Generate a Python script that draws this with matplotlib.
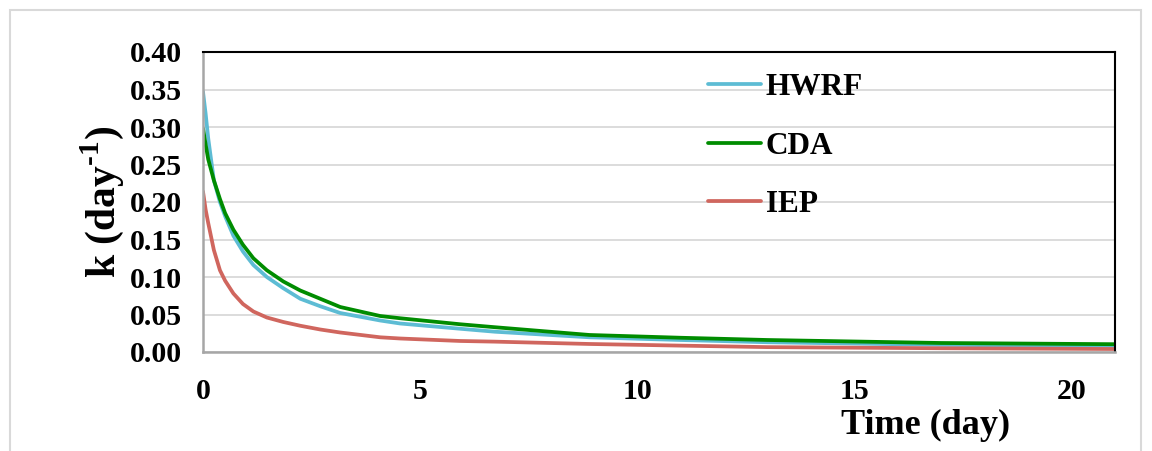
import matplotlib
matplotlib.use("Agg")
import matplotlib.pyplot as plt
from matplotlib.patches import Rectangle

# values
time_day = [0, 0.06, 0.12, 0.25, 0.39, 0.51, 0.70, 0.92, 1.16, 1.47, 1.85, 2.24,
            2.70, 3.16, 4.08, 4.54, 5.92, 6.73, 8.9, 11, 13, 17, 21]
k_hwrf = [0.347, 0.318, 0.285, 0.229, 0.200, 0.181, 0.155, 0.134, 0.116, 0.100, 0.085,
          0.071, 0.061, 0.052, 0.042, 0.038, 0.031, 0.027, 0.0196, 0.016, 0.013, 0.0095, 0.008]
k_cda = [0.298, 0.277, 0.257, 0.229, 0.204, 0.185, 0.163, 0.143, 0.125, 0.109, 0.094,
         0.082, 0.071, 0.060, 0.048, 0.045, 0.037, 0.033, 0.0227, 0.019, 0.016, 0.012, 0.0104]
k_iep = [0.214, 0.190, 0.172, 0.136, 0.109, 0.095, 0.078, 0.064, 0.054, 0.046, 0.040,
         0.035, 0.030, 0.026, 0.0196, 0.018, 0.0147, 0.0138, 0.0107, 0.0085, 0.0065, 0.005, 0.004]

x_ticks = [0, 5, 10, 15, 20]
y_ticks = [0.00, 0.05, 0.10, 0.15, 0.20, 0.25, 0.30, 0.35, 0.40]

plt.rcParams['font.family'] = ['Liberation Serif', 'DejaVu Serif']
plt.rcParams['font.weight'] = 'bold'
plt.rcParams['mathtext.fontset'] = 'custom'
plt.rcParams['mathtext.rm'] = 'Liberation Serif:bold'
plt.rcParams['mathtext.bf'] = 'Liberation Serif:bold'

W, H = 1152, 451
fig = plt.figure(figsize=(W / 100, H / 100), dpi=100)
ax = fig.add_axes([203 / W, 1 - 352 / H, (1115 - 203) / W, (352 - 52) / H])

# outer chart border
fig.patches.append(Rectangle((10 / W, -0.01), 1131 / W, 1 - 10 / H + 0.01,
                             transform=fig.transFigure, fill=False,
                             edgecolor='#d9d9d9', linewidth=1.5))

ax.plot(time_day, k_hwrf, color='#5dbcd4', lw=2.7, label='HWRF',
        solid_capstyle='round', solid_joinstyle='round')
ax.plot(time_day, k_cda, color='#008c00', lw=2.7, label='CDA',
        solid_capstyle='round', solid_joinstyle='round')
ax.plot(time_day, k_iep, color='#d0665e', lw=2.7, label='IEP',
        solid_capstyle='round', solid_joinstyle='round')

ax.set_xlim(0, 21)
ax.set_ylim(0, 0.40)
ax.set_xticks(x_ticks)
ax.set_yticks(y_ticks)
ax.set_xticklabels([str(v) for v in x_ticks])
ax.set_yticklabels(['%.2f' % v for v in y_ticks])
ax.tick_params(axis='both', length=0, labelsize=21.5)
ax.tick_params(axis='x', pad=19)
ax.tick_params(axis='y', pad=15)

ax.grid(axis='y', color='#d9d9d9', lw=1.3)
ax.set_axisbelow(True)
for side in ['top', 'right']:
    ax.spines[side].set_color('black')
    ax.spines[side].set_linewidth(1.5)
for side in ['left', 'bottom']:
    ax.spines[side].set_color('#a6a6a6')
    ax.spines[side].set_linewidth(1.8)

fig.text(102 / W, 1 - 202 / H, 'k (day$^{\\text{-1}}$)', rotation=90,
         ha='center', va='center', fontsize=30, fontweight='bold')
fig.text(926 / W, 1 - 425 / H, 'Time (day)', ha='center', va='center',
         fontsize=26, fontweight='bold')

leg = ax.legend(loc='upper left', bbox_to_anchor=(708 / W, 1 - 73 / H),
                bbox_transform=fig.transFigure, frameon=False, fontsize=22.5,
                handlelength=1.7, handletextpad=0.15, labelspacing=0.95,
                borderpad=0, borderaxespad=0)

fig.savefig('out.png', dpi=100)
